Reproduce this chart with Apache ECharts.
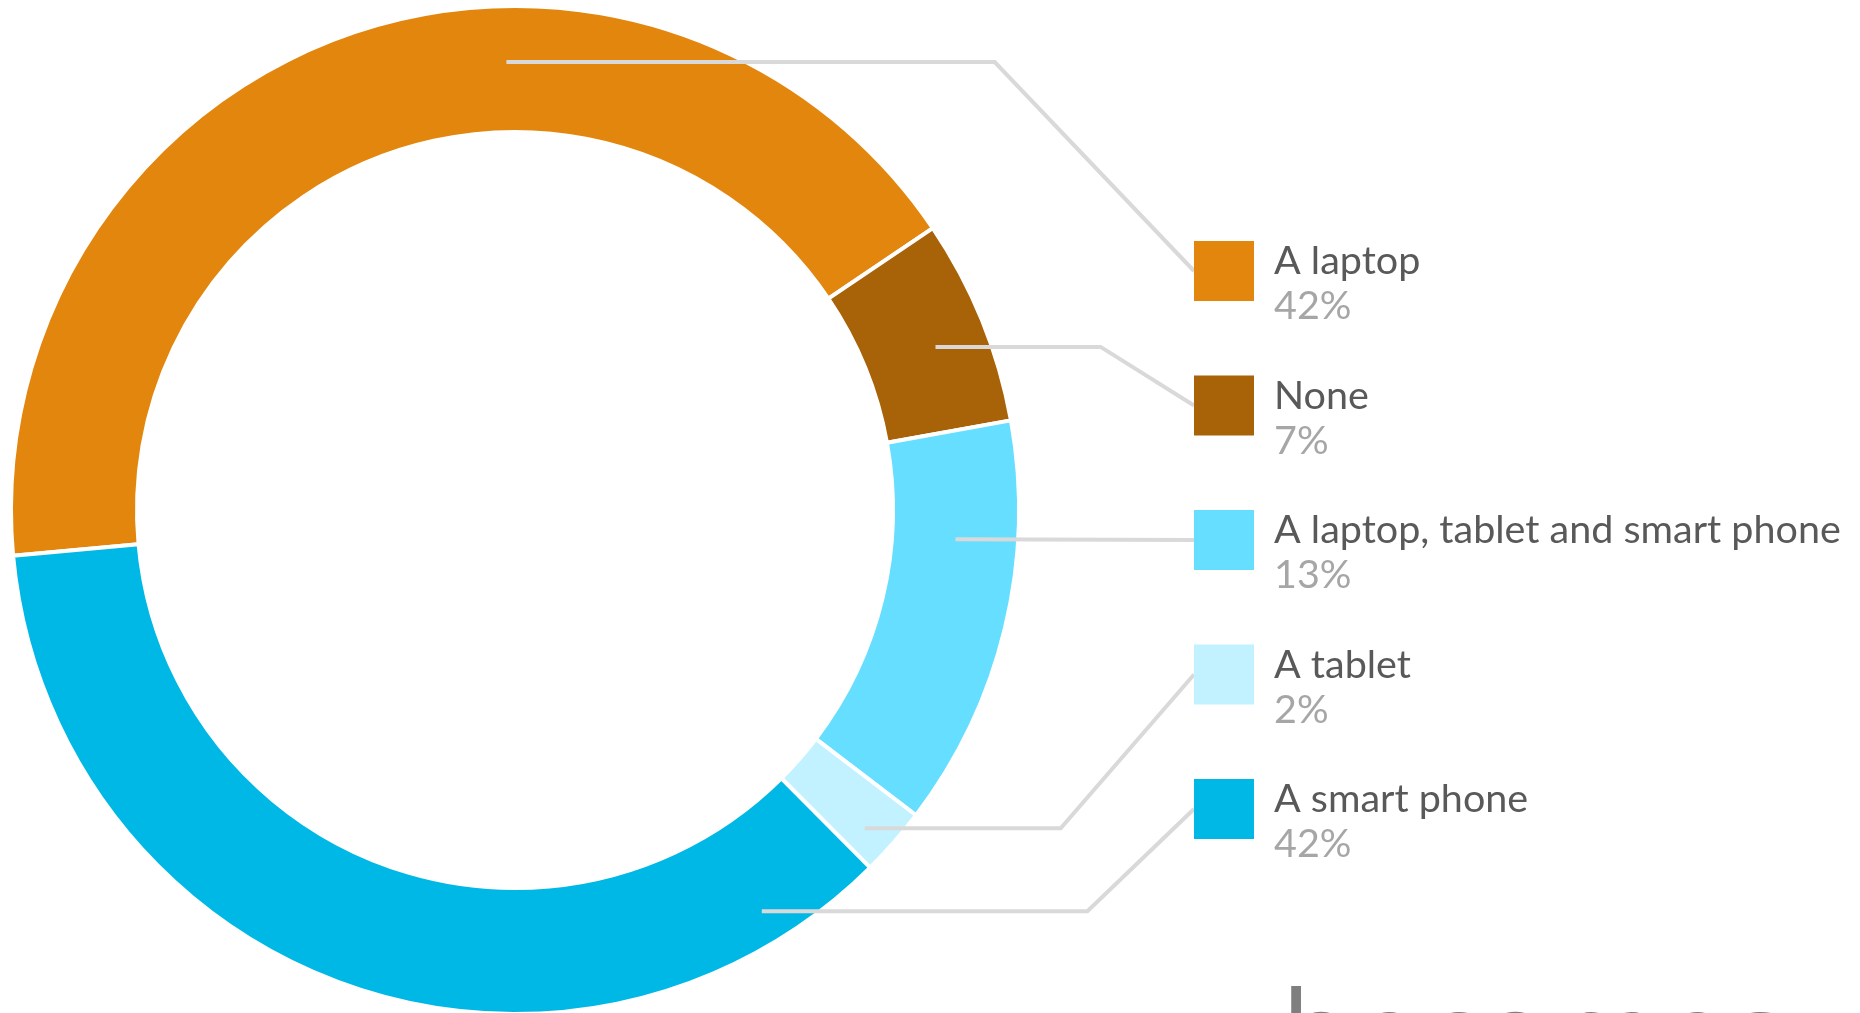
<!DOCTYPE html>
<html>
<head>
<meta charset="utf-8">
<script src="https://cdn.jsdelivr.net/npm/echarts@6/dist/echarts.min.js"></script>
<style>
  html, body { margin: 0; padding: 0; background: #fff; }
  #grafico { width: 1860px; height: 1013px; }
</style>
</head>
<body>
<div id="grafico"></div>
<script>
// Datos
const categorias = ['A laptop', 'None', 'A laptop, tablet and smart phone', 'A tablet', 'A smart phone'];
const valores = [42, 6.6, 13.2, 2.2, 36];           // slice sizes read from the ring
const etiquetas = ['42%', '7%', '13%', '2%', '42%'];  // printed percentages
const colores = ['#E3860E', '#A86208', '#66DEFF', '#C2F1FF', '#00B8E6'];
const textoPie = 'becomes';

// Layout
const centro = [515, 510];
const radio = [378, 504];
const angInicio = 185.2;
const legendaX = 1194, legendaTop = 241, filaAlto = 134.5, cuadro = 60;
// leader start: [angle clockwise from top, radius px], and x where the line bends
const anclas = [[358.9, 448], [68.8, 451], [93.8, 441.5], [132.3, 473], [148.4, 471]];
const codos = [994.7, 1100.6, null, 1060.7, 1087.4];

function puntoPolar(ang, r) {
    const a = ang * Math.PI / 180;
    return [centro[0] + r * Math.sin(a), centro[1] - r * Math.cos(a)];
}

function crearGrafico(data) {
    return {
        animation: false,
        color: colores,
        legend: {
            orient: 'vertical',
            left: legendaX,
            top: legendaTop,
            padding: 0,
            itemWidth: cuadro,
            itemHeight: cuadro,
            itemGap: filaAlto - cuadro,
            icon: 'rect',
            selectedMode: false,
            itemStyle: { borderWidth: 0 },
            formatter: () => '',
            z: 10,
            data: categorias
        },
        series: [
            {
                // the ring
                type: 'pie',
                z: 2,
                center: centro,
                radius: radio,
                startAngle: angInicio,
                avoidLabelOverlap: false,
                emphasis: { disabled: true },
                itemStyle: { borderColor: '#fff', borderWidth: 4 },
                label: { show: false },
                labelLine: { show: false },
                data: data
            },
            {
                // transparent copy on top, carries the labels and leader lines
                type: 'pie',
                z: 5,
                center: centro,
                radius: radio,
                startAngle: angInicio,
                silent: true,
                avoidLabelOverlap: false,
                emphasis: { disabled: true },
                itemStyle: { color: 'rgba(0,0,0,0)', borderWidth: 0 },
                label: {
                    show: true,
                    position: 'outside',
                    formatter: p => '{n|' + p.name + '}\n{p|' + etiquetas[p.dataIndex] + '}',
                    rich: {
                        n: { fontFamily: 'Lato', fontSize: 39.5, color: '#595959', lineHeight: 45 },
                        p: { fontFamily: 'Lato', fontSize: 39.5, color: '#A6A6A6', lineHeight: 45 }
                    }
                },
                labelLine: {
                    show: true,
                    lineStyle: { color: '#D9D9D9', width: 4 }
                },
                labelLayout: params => {
                    const i = params.dataIndex;
                    const filaY = legendaTop + i * filaAlto;
                    const inicio = puntoPolar(anclas[i][0], anclas[i][1]);
                    const fin = [legendaX, filaY + cuadro / 2];
                    const codo = codos[i] === null ? fin : [codos[i], inicio[1]];
                    return {
                        x: legendaX + 80,
                        y: filaY - 2,
                        align: 'left',
                        verticalAlign: 'top',
                        labelLinePoints: [inicio, codo, fin]
                    };
                },
                data: data
            }
        ],
        graphic: [{
            type: 'text',
            left: 1281,
            top: 984,
            style: {
                text: textoPie,
                font: '120px "Open Sans"',
                fill: '#7F7F7F'
            }
        }]
    };
}

function iniciar() {
    const chart = echarts.init(document.getElementById('grafico'), null, { renderer: 'canvas' });
    const datos = categorias.map((c, i) => ({ name: c, value: valores[i] }));
    chart.setOption(crearGrafico(datos));
}

iniciar();
</script>
</body>
</html>
